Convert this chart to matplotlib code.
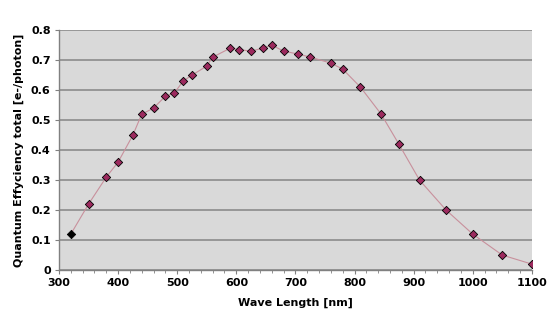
import matplotlib
matplotlib.use("Agg")
import matplotlib.pyplot as plt
import numpy as np

# Wavelength [nm] and quantum efficiency
wave = [320, 350, 380, 400, 425, 440, 460, 480, 495, 510, 525, 550, 560,
        590, 605, 625, 645, 660, 680, 705, 725, 760, 780, 810, 845, 875,
        910, 955, 1000, 1050, 1100]
qe = [0.12, 0.22, 0.31, 0.36, 0.45, 0.52, 0.54, 0.58, 0.59, 0.63, 0.65,
      0.68, 0.71, 0.74, 0.735, 0.73, 0.74, 0.75, 0.73, 0.72, 0.71, 0.69,
      0.67, 0.61, 0.52, 0.42, 0.30, 0.20, 0.12, 0.05, 0.02]

fig = plt.figure(figsize=(5.54, 3.31), dpi=100)
ax = fig.add_axes([0.1065, 0.184, 0.8535, 0.725])
ax.set_facecolor('#d9d9d9')

# thin connecting line
ax.plot(wave, qe, color='#c8909c', linewidth=0.8, zorder=2)
# diamond markers, first one is black
ax.scatter(wave[1:], qe[1:], marker='D', s=18, facecolor='#9c2a5e',
           edgecolor='black', linewidth=0.6, zorder=3)
ax.scatter(wave[:1], qe[:1], marker='D', s=18, facecolor='black',
           edgecolor='black', linewidth=0.6, zorder=3)

ax.set_xlim(300, 1100)
ax.set_ylim(0, 0.8)
ax.set_xticks(np.arange(300, 1101, 100))
ax.set_xticks(np.arange(300, 1101, 20), minor=True)
ax.set_yticks([0, 0.1, 0.2, 0.3, 0.4, 0.5, 0.6, 0.7, 0.8])
ax.set_yticklabels(['0', '0.1', '0.2', '0.3', '0.4', '0.5', '0.6', '0.7', '0.8'])

ax.grid(axis='y', color='#8c8c8c', linewidth=1.2)
ax.set_axisbelow(True)

for s in ['top', 'right']:
    ax.spines[s].set_visible(False)
for s in ['left', 'bottom']:
    ax.spines[s].set_color('#808080')
    ax.spines[s].set_linewidth(1.0)

ax.tick_params(axis='both', which='major', labelsize=8, length=3,
               color='#808080', pad=3)
ax.tick_params(axis='x', which='minor', length=2, color='#808080')
for lab in ax.get_xticklabels() + ax.get_yticklabels():
    lab.set_fontweight('bold')

ax.set_xlabel('Wave Length [nm]', fontsize=8, fontweight='bold', labelpad=7)
ax.set_ylabel('Quantum Effyciency total [e-/photon]', fontsize=8,
              fontweight='bold', labelpad=5)

fig.savefig('out.png', dpi=100)
